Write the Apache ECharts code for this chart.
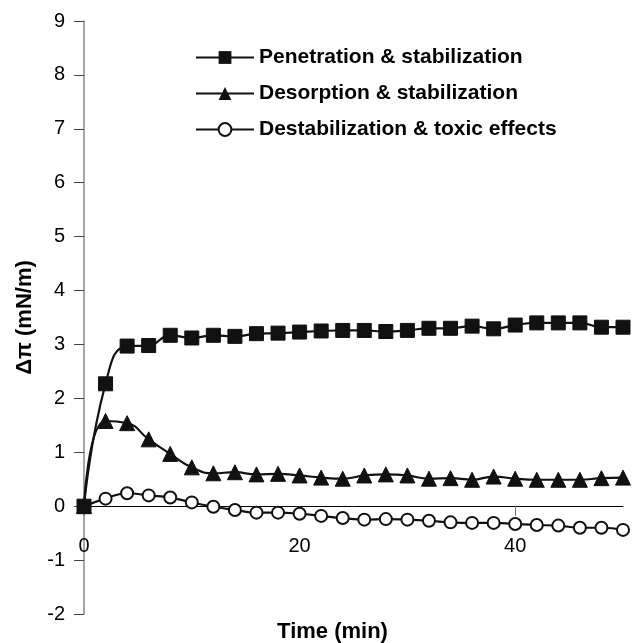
<!DOCTYPE html>
<html>
<head>
<meta charset="utf-8">
<script src="https://cdn.jsdelivr.net/npm/echarts@6/dist/echarts.min.js"></script>
<style>
html,body{margin:0;padding:0;background:#fff;}
#chart{width:641px;height:643px;}
</style>
</head>
<body>
<div id="chart"></div>
<script>
var times = [0,2,4,6,8,10,12,14,16,18,20,22,24,26,28,30,32,34,36,38,40,42,44,46,48,50];
var penetration = [0,2.27,2.97,2.98,3.17,3.12,3.17,3.15,3.2,3.21,3.23,3.25,3.26,3.26,3.24,3.26,3.3,3.3,3.34,3.29,3.36,3.4,3.4,3.4,3.32,3.32];
var desorption = [0,1.58,1.54,1.24,0.97,0.72,0.61,0.63,0.59,0.6,0.57,0.53,0.51,0.57,0.59,0.57,0.51,0.52,0.49,0.55,0.51,0.49,0.49,0.49,0.52,0.53];
var destabilization = [0,0.14,0.24,0.2,0.16,0.07,-0.01,-0.07,-0.12,-0.12,-0.14,-0.18,-0.22,-0.25,-0.24,-0.25,-0.27,-0.3,-0.31,-0.31,-0.33,-0.35,-0.36,-0.4,-0.4,-0.44];
var xTicks = [0,20,40];
var seriesNames = ['Penetration & stabilization','Desorption & stabilization','Destabilization & toxic effects'];

function pairs(arr){ return times.map(function(t,i){ return [t, arr[i]]; }); }

var chart = echarts.init(document.getElementById('chart'));
var font = 'Liberation Sans, Arial, Helvetica, sans-serif';
chart.setOption({
  animation: false,
  backgroundColor: '#fff',
  grid: {left: 84, right: 18, top: 21, bottom: 29, containLabel: false, outerBoundsMode: 'none'},
  legend: {
    orient: 'vertical',
    left: 195,
    top: 47,
    padding: 0,
    itemWidth: 58,
    itemHeight: 16,
    itemGap: 15,
    textStyle: {fontFamily: font, fontSize: 21, fontWeight: 'bold', color: '#000'},
    data: seriesNames
  },
  xAxis: {
    type: 'value',
    min: 0, max: 50,
    name: 'Time (min)',
    nameLocation: 'middle',
    nameGap: 7,
    nameTextStyle: {fontFamily: font, fontSize: 22, fontWeight: 'bold', color: '#000', padding: [0, 42, 0, 0]},
    axisLine: {onZero: true, lineStyle: {color: '#000', width: 1}},
    axisTick: {show: true, length: 10, lineStyle: {color: '#777'}, customValues: xTicks},
    axisLabel: {fontFamily: font, fontSize: 20, color: '#000', margin: -78, customValues: xTicks},
    splitLine: {show: false}
  },
  yAxis: {
    type: 'value',
    min: -2, max: 9, interval: 1,
    name: 'Δπ (mN/m)',
    nameLocation: 'middle',
    nameGap: 42,
    nameTextStyle: {fontFamily: font, fontSize: 22, fontWeight: 'bold', color: '#000'},
    axisLine: {show: true, lineStyle: {color: '#888', width: 1.5}},
    axisTick: {show: true, length: 10, lineStyle: {color: '#444'}},
    axisLabel: {fontFamily: font, fontSize: 20, color: '#000', margin: 19},
    splitLine: {show: false}
  },
  series: [
    {
      name: seriesNames[0], type: 'line', data: pairs(penetration), smooth: 0.5, z: 5,
      symbol: 'rect', symbolSize: 14,
      lineStyle: {color: '#111', width: 2.2},
      itemStyle: {color: '#111', borderColor: '#111'}
    },
    {
      name: seriesNames[1], type: 'line', data: pairs(desorption), smooth: 0.5, z: 3,
      symbol: 'triangle', symbolSize: 15,
      lineStyle: {color: '#111', width: 2.2},
      itemStyle: {color: '#111', borderColor: '#111'}
    },
    {
      name: seriesNames[2], type: 'line', data: pairs(destabilization), smooth: 0.5, z: 2,
      symbol: 'circle', symbolSize: 12, showAllSymbol: true,
      lineStyle: {color: '#111', width: 2.2},
      itemStyle: {color: '#fff', borderColor: '#111', borderWidth: 2}
    }
  ]
});
</script>
</body>
</html>
